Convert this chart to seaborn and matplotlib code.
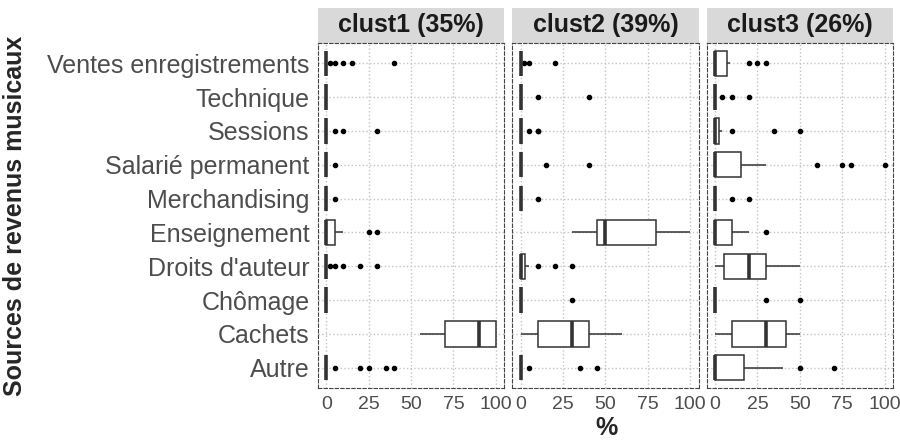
import pandas as pd
import matplotlib.pyplot as plt
import seaborn as sns
from matplotlib.patches import Rectangle

# sources de revenus, top to bottom
sources = [
    'Ventes enregistrements', 'Technique', 'Sessions', 'Salarié permanent',
    'Merchandising', 'Enseignement', "Droits d'auteur", 'Chômage',
    'Cachets', 'Autre'
]

cluster_titles = ['clust1 (35%)', 'clust2 (39%)', 'clust3 (26%)']

# % of musical income per respondent, by source
clust1 = {
    'Ventes enregistrements': [0] * 30 + [2, 5, 10, 15, 40],
    'Technique': [0] * 35,
    'Sessions': [0] * 32 + [5, 10, 30],
    'Salarié permanent': [0] * 34 + [5],
    'Merchandising': [0] * 34 + [5],
    'Enseignement': [0] * 20 + [5] * 10 + [10] * 3 + [25, 30],
    "Droits d'auteur": [0] * 30 + [2, 5, 10, 20, 30],
    'Chômage': [0] * 35,
    'Cachets': [55, 60, 60, 65, 65, 68, 70, 70, 70, 70, 75, 75, 80, 80, 85,
                85, 90, 90, 90, 95, 95, 95, 100, 100, 100] + [100] * 10,
    'Autre': [0] * 30 + [5, 20, 25, 35, 40],
}

clust2 = {
    'Ventes enregistrements': [0] * 36 + [2, 5, 20],
    'Technique': [0] * 37 + [10, 40],
    'Sessions': [0] * 36 + [5, 10, 10],
    'Salarié permanent': [0] * 37 + [15, 40],
    'Merchandising': [0] * 38 + [10],
    'Enseignement': [30, 32, 35, 38, 40, 40, 42, 43, 44, 45, 45, 45, 47, 48,
                     50, 50, 50, 50, 50, 50, 55, 60, 60, 65, 70, 70, 75, 80,
                     80, 80, 80, 85, 85, 90, 90, 95, 95, 100, 100],
    "Droits d'auteur": [0] * 24 + [1, 1, 2, 2, 2, 3, 3, 3, 5, 5, 5, 5,
                                   10, 20, 30],
    'Chômage': [0] * 38 + [30],
    'Cachets': [0, 0, 2, 5, 5, 8, 10, 10, 10, 10, 10, 15, 20, 20, 25, 25, 30,
                30, 30, 30, 30, 30, 35, 35, 35, 40, 40, 40, 40, 40, 40, 45,
                45, 50, 50, 50, 55, 55, 60],
    'Autre': [0] * 36 + [5, 35, 45],
}

clust3 = {
    'Ventes enregistrements': [0] * 14 + [2, 3, 5, 5, 7, 7, 7, 8, 9,
                                          20, 25, 30],
    'Technique': [0] * 23 + [4, 10, 20],
    'Sessions': [0] * 16 + [1, 2, 2, 2, 3, 3, 4, 10, 35, 50],
    'Salarié permanent': [0] * 14 + [5, 10, 10, 15, 15, 15, 20, 30,
                                     60, 75, 80, 100],
    'Merchandising': [0] * 24 + [10, 20],
    'Enseignement': [0] * 14 + [2, 5, 5, 10, 10, 10, 10, 10, 15, 15, 20, 30],
    "Droits d'auteur": [0, 0, 2, 3, 5, 5, 5, 5, 10, 10, 15, 15, 20, 20, 20,
                        25, 25, 30, 30, 30, 30, 35, 40, 40, 45, 50],
    'Chômage': [0] * 24 + [30, 50],
    'Cachets': [0, 0, 5, 5, 8, 10, 10, 10, 15, 20, 25, 25, 30, 30, 30, 35,
                35, 40, 42, 42, 45, 45, 48, 50, 50, 50],
    'Autre': [0] * 14 + [5, 5, 10, 10, 15, 18, 20, 25, 30, 40, 50, 70],
}

xticks = [0, 25, 50, 75, 100]

rows = []
for title, data in zip(cluster_titles, [clust1, clust2, clust3]):
    for src in sources:
        for v in data[src]:
            rows.append({'cluster': title, 'source': src, 'pct': v})
df = pd.DataFrame(rows)

sns.set_style('white')
plt.rcParams['font.family'] = ['Liberation Sans', 'DejaVu Sans']

fig, axes = plt.subplots(1, 3, figsize=(9, 4.4), dpi=100)
fig.subplots_adjust(left=0.3533, right=0.9922, bottom=0.118, top=0.9023,
                    wspace=0.043)

for i, (ax, title) in enumerate(zip(axes, cluster_titles)):
    sns.boxplot(
        data=df[df['cluster'] == title],
        x='pct',
        y='source',
        order=sources,
        orient='h',
        color='white',
        linecolor='#333333',
        linewidth=1.1,
        width=0.75,
        showcaps=False,
        fliersize=3.0,
        flierprops=dict(marker='o', markerfacecolor='black',
                        markeredgecolor='black'),
        medianprops=dict(linewidth=2.6, color='#333333'),
        ax=ax
    )

    ax.set_xlim(-5, 105)
    ax.set_ylim(9.6, -0.6)
    ax.set_xticks(xticks)
    ax.set_axisbelow(True)
    ax.grid(True, axis='both', linestyle=':', color='#C4C4C4', linewidth=1.0)
    ax.set_xlabel('')
    ax.set_ylabel('')

    for sp in ax.spines.values():
        sp.set_visible(True)
        sp.set_linestyle((0, (3, 2)))
        sp.set_color('#444444')
        sp.set_linewidth(0.8)

    ax.tick_params(axis='x', labelsize=14, colors='#333333', length=4,
                   width=0.8, pad=2)
    ax.tick_params(axis='x', labelcolor='#4D4D4D')
    if i == 0:
        ax.tick_params(axis='y', labelsize=18, colors='#333333', length=4,
                       width=0.8, pad=2)
        ax.tick_params(axis='y', labelcolor='#4D4D4D')
    else:
        ax.tick_params(axis='y', left=False, labelleft=False)

    # facet strip
    strip_h = 35 / 345
    ax.add_patch(Rectangle((0, 1), 1, strip_h, transform=ax.transAxes,
                           facecolor='#D9D9D9', edgecolor='none',
                           clip_on=False, zorder=0))
    ax.text(0.5, 1 + strip_h / 2, title, transform=ax.transAxes,
            ha='center', va='center', fontsize=18, fontweight='bold',
            color='#1A1A1A')

fig.text(0.017, 0.51, 'Sources de revenus musicaux', rotation=90,
         ha='center', va='center', fontsize=18, fontweight='bold')
fig.text(0.674, 0.027, '%', ha='center', va='center', fontsize=18,
         fontweight='bold')

plt.savefig('out.png', dpi=100)
